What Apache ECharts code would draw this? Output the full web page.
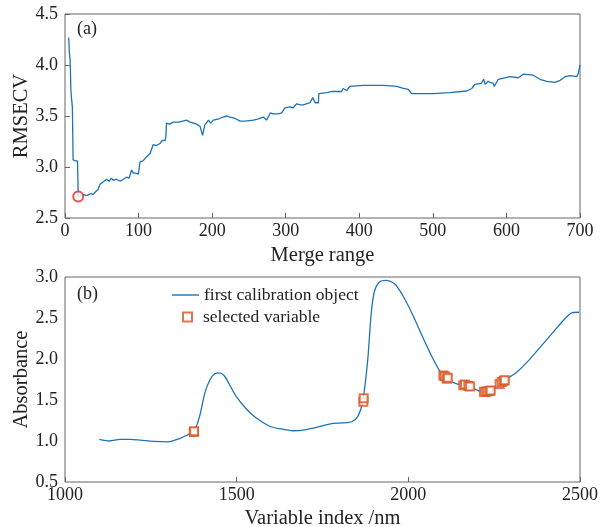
<!DOCTYPE html>
<html>
<head>
<meta charset="utf-8">
<script src="https://cdn.jsdelivr.net/npm/echarts@6/dist/echarts.min.js"></script>
<style>
    html, body { margin: 0; padding: 0; background: #fff; }
    #chart { width: 600px; height: 527px; }
</style>
</head>
<body>
<div id="chart"></div>
<script>
    // (a) RMSECV vs merge range
    const mergeRange = [5, 6, 7, 8, 9, 10, 11, 14, 17, 18, 20, 25, 30, 35, 38, 42, 45, 47.6, 50, 53, 56.7, 60, 63, 65.7, 70, 75, 79.3, 83.8, 87, 90.6, 92.9, 96, 99.7, 101.9, 106, 111, 113, 115.5, 118, 120, 124, 129, 132, 136, 137, 138, 142, 147, 155, 160, 165, 170, 175, 179, 183.5, 187, 190, 193, 195, 198, 201.6, 208, 215, 220, 224, 230, 238, 245, 256, 262, 269.5, 274, 279, 283, 290, 294.5, 299, 306, 310, 315, 320, 324, 333, 336.7, 340, 344.5, 345, 355.7, 362, 369, 376, 378, 383, 385, 387, 405.5, 433, 451, 460, 466.7, 471, 500.6, 523, 546, 553, 557, 566, 569, 571, 575, 578, 582, 583.5, 589, 591, 605, 616, 623, 636.5, 645.6, 654.7, 666, 673, 679.6, 686.5, 695.5, 697.7, 700];
    const rmsecv = [4.27, 4.12, 4.05, 3.75, 3.66, 3.59, 3.07, 3.06, 3.06, 2.71, 2.72, 2.73, 2.72, 2.74, 2.73, 2.76, 2.78, 2.83, 2.82, 2.86, 2.88, 2.86, 2.89, 2.87, 2.88, 2.86, 2.88, 2.90, 2.89, 2.97, 2.94, 2.94, 2.93, 3.05, 3.06, 3.10, 3.09, 3.13, 3.14, 3.22, 3.21, 3.23, 3.26, 3.26, 3.29, 3.43, 3.42, 3.44, 3.44, 3.45, 3.46, 3.44, 3.43, 3.42, 3.40, 3.31, 3.41, 3.44, 3.46, 3.43, 3.46, 3.47, 3.49, 3.50, 3.49, 3.48, 3.45, 3.45, 3.46, 3.47, 3.49, 3.46, 3.53, 3.52, 3.52, 3.53, 3.58, 3.59, 3.58, 3.62, 3.61, 3.61, 3.63, 3.68, 3.63, 3.63, 3.72, 3.73, 3.74, 3.74, 3.74, 3.77, 3.75, 3.74, 3.79, 3.80, 3.80, 3.79, 3.77, 3.76, 3.72, 3.72, 3.73, 3.745, 3.77, 3.81, 3.82, 3.86, 3.81, 3.84, 3.83, 3.82, 3.79, 3.86, 3.875, 3.885, 3.875, 3.91, 3.90, 3.86, 3.84, 3.83, 3.85, 3.885, 3.895, 3.885, 3.92, 4.0];
    const bestPoint = [18, 2.71];

    // (b) spectrum + selected variables
    const wavelength = [1100, 1130, 1160, 1190, 1220, 1260, 1300, 1334, 1360, 1375, 1392, 1407, 1421.5, 1436, 1450.6, 1465, 1480, 1499, 1528, 1557, 1596, 1625, 1664, 1703, 1741, 1780, 1809, 1835, 1853, 1867, 1882, 1891.5, 1901, 1916, 1935, 1959, 1983, 2012.5, 2041.6, 2071, 2095, 2110, 2139, 2163, 2190, 2216, 2239, 2266, 2279, 2313, 2352, 2410, 2458, 2478, 2497];
    const absorbance = [1.02, 1.00, 1.02, 1.02, 1.01, 0.995, 0.99, 1.03, 1.08, 1.11, 1.30, 1.58, 1.74, 1.82, 1.83, 1.79, 1.68, 1.54, 1.39, 1.28, 1.18, 1.15, 1.125, 1.14, 1.175, 1.215, 1.22, 1.235, 1.30, 1.48, 2.00, 2.54, 2.82, 2.94, 2.96, 2.92, 2.78, 2.54, 2.27, 2.01, 1.83, 1.76, 1.70, 1.68, 1.64, 1.60, 1.615, 1.695, 1.74, 1.83, 1.99, 2.27, 2.50, 2.565, 2.57];
    const selectedX = [1375, 1376, 1869, 1870, 2102, 2106, 2112, 2115, 2160, 2165, 2175, 2180, 2220, 2225, 2230, 2236, 2240, 2266, 2272, 2278, 2281];
    const selectedY = [1.11, 1.12, 1.48, 1.52, 1.80, 1.79, 1.76, 1.77, 1.68, 1.69, 1.67, 1.665, 1.60, 1.60, 1.605, 1.61, 1.615, 1.695, 1.72, 1.735, 1.74];

    const serif = 'Liberation Serif';
    const lineColor = '#1f72b8';
    const markColor = '#d9531e';

    function pairs(xs, ys) {
        return xs.map((x, i) => [x, ys[i]]);
    }

    let chart = echarts.init(document.getElementById('chart'));

    const tickLabel = {
        fontFamily: serif,
        fontSize: 18,
        color: '#222',
    };
    const nameStyle = { fontFamily: serif, fontSize: 20.5, color: '#222' };
    const tickStyle = { inside: true, length: 5, lineStyle: { color: '#666' } };

    let option = {
        animation: false,
        textStyle: { fontFamily: serif },
        title: [
            { text: '(a)', left: 72, top: 15, textStyle: { fontFamily: serif, fontSize: 18, fontWeight: 'normal', color: '#222' } },
            { text: '(b)', left: 72, top: 280, textStyle: { fontFamily: serif, fontSize: 18, fontWeight: 'normal', color: '#222' } },
        ],
        legend: [
            {
                left: 172, top: 286, padding: 0,
                itemWidth: 27, itemHeight: 10,
                textStyle: { fontFamily: serif, fontSize: 17.5, color: '#222' },
                data: [{ name: 'first calibration object', icon: 'path://M0,0 L27,0 L27,1.4 L0,1.4 Z' }],
            },
            {
                left: 182, top: 308, padding: 0,
                itemWidth: 9, itemHeight: 9,
                textStyle: { fontFamily: serif, fontSize: 17.5, color: '#222', padding: [0, 0, 0, 6] },
                data: ['selected variable'],
            },
        ],
        grid: [
            { left: 65, top: 14, width: 515, height: 204, outerBoundsMode: 'none', show: true, borderColor: '#666', borderWidth: 1 },
            { left: 65, top: 277, width: 515, height: 205, outerBoundsMode: 'none', show: true, borderColor: '#666', borderWidth: 1 },
        ],
        xAxis: [
            {
                gridIndex: 0, type: 'value', min: 0, max: 700, interval: 100,
                name: 'Merge range', nameLocation: 'middle', nameGap: 27,
                nameTextStyle: nameStyle,
                axisLine: { show: false },
                axisTick: tickStyle,
                axisLabel: Object.assign({ margin: 4, formatter: v => String(v) }, tickLabel),
                splitLine: { show: false },
            },
            {
                gridIndex: 1, type: 'value', min: 1000, max: 2500, interval: 500,
                name: 'Variable index /nm', nameLocation: 'middle', nameGap: 26,
                nameTextStyle: nameStyle,
                axisLine: { show: false },
                axisTick: tickStyle,
                axisLabel: Object.assign({ margin: 4, formatter: v => String(v) }, tickLabel),
                splitLine: { show: false },
            },
        ],
        yAxis: [
            {
                gridIndex: 0, type: 'value', min: 2.5, max: 4.5, interval: 0.5,
                name: 'RMSECV', nameLocation: 'middle', nameGap: 33, nameMoveOverlap: false,
                nameTextStyle: nameStyle,
                axisLine: { show: false },
                axisTick: tickStyle,
                axisLabel: Object.assign({ margin: 7, formatter: v => v.toFixed(1) }, tickLabel),
                splitLine: { show: false },
            },
            {
                gridIndex: 1, type: 'value', min: 0.5, max: 3.0, interval: 0.5,
                name: 'Absorbance', nameLocation: 'middle', nameGap: 33, nameMoveOverlap: false,
                nameTextStyle: nameStyle,
                axisLine: { show: false },
                axisTick: { show: false },
                axisLabel: Object.assign({ margin: 7, formatter: v => v.toFixed(1) }, tickLabel),
                splitLine: { show: false },
            },
        ],
        series: [
            {
                name: 'RMSECV',
                type: 'line',
                xAxisIndex: 0, yAxisIndex: 0,
                symbol: 'none',
                lineStyle: { color: lineColor, width: 1.3 },
                data: pairs(mergeRange, rmsecv),
            },
            {
                name: 'best',
                type: 'scatter',
                xAxisIndex: 0, yAxisIndex: 0,
                symbol: 'emptyCircle',
                symbolSize: 10,
                itemStyle: { color: '#e8281e', borderWidth: 1.3 },
                data: [bestPoint],
                z: 5,
            },
            {
                name: 'first calibration object',
                type: 'line',
                xAxisIndex: 1, yAxisIndex: 1,
                symbol: 'none',
                smooth: 0.25,
                lineStyle: { color: lineColor, width: 1.3 },
                itemStyle: { color: lineColor },
                data: pairs(wavelength, absorbance),
            },
            {
                name: 'selected variable',
                type: 'scatter',
                xAxisIndex: 1, yAxisIndex: 1,
                symbol: 'emptyRect',
                symbolSize: 8,
                itemStyle: { color: markColor, borderColor: markColor, borderWidth: 1.2 },
                data: pairs(selectedX, selectedY),
                z: 5,
            },
        ],
    };

    chart.setOption(option);
</script>
</body>
</html>
